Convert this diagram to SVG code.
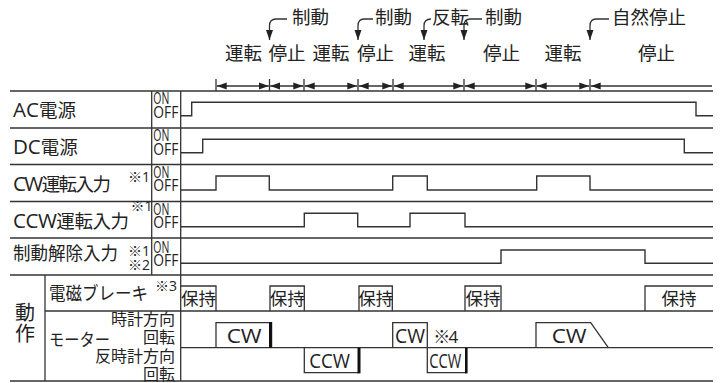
<svg xmlns="http://www.w3.org/2000/svg" width="724" height="383" viewBox="0 0 724 383">
<style>
text{font-family:"Open Sans","Noto Sans CJK JP",sans-serif;fill:#222}
.ln{stroke:#333;stroke-width:1.3;fill:none}
.sig{stroke:#333;stroke-width:1.4;fill:none}
.lbl{font-size:18.5px}
.lat{font-size:20.5px}
.oo{font-size:16.5px}
.nt{font-size:14px}
.hd{font-size:18.5px}
.mid{text-anchor:middle}
.end{text-anchor:end}
.box{stroke:#333;stroke-width:1.3;fill:none}
.bar{fill:#111}
</style>
<defs>
<marker id="ah" viewBox="0 0 10 7" refX="10" refY="3.5" markerWidth="10" markerHeight="7.5" markerUnits="userSpaceOnUse" orient="auto-start-reverse">
<path d="M0,0 L10,3.5 L0,7 z" fill="#222"/>
</marker>
</defs>

<g id="header">
<g id="ticks" class="ln">
<line x1="216" y1="79" x2="216" y2="91"/>
<line x1="269.5" y1="79" x2="269.5" y2="91"/>
<line x1="304" y1="79" x2="304" y2="91"/>
<line x1="358" y1="79" x2="358" y2="91"/>
<line x1="393" y1="79" x2="393" y2="91"/>
<line x1="464" y1="79" x2="464" y2="91"/>
<line x1="536" y1="79" x2="536" y2="91"/>
<line x1="590" y1="79" x2="590" y2="91"/>
</g>
<g id="dims" class="ln">
<line x1="216.7" y1="86" x2="268.8" y2="86" marker-start="url(#ah)" marker-end="url(#ah)"/>
<line x1="270.2" y1="86" x2="303.3" y2="86" marker-start="url(#ah)" marker-end="url(#ah)"/>
<line x1="304.7" y1="86" x2="357.3" y2="86" marker-start="url(#ah)" marker-end="url(#ah)"/>
<line x1="358.7" y1="86" x2="392.3" y2="86" marker-start="url(#ah)" marker-end="url(#ah)"/>
<line x1="393.7" y1="86" x2="463.3" y2="86" marker-start="url(#ah)" marker-end="url(#ah)"/>
<line x1="464.7" y1="86" x2="535.3" y2="86" marker-start="url(#ah)" marker-end="url(#ah)"/>
<line x1="536.7" y1="86" x2="589.3" y2="86" marker-start="url(#ah)" marker-end="url(#ah)"/>
<line x1="590.7" y1="86" x2="712" y2="86" marker-start="url(#ah)"/>
</g>
<g id="phase-labels" class="hd mid">
<text x="243.5" y="60">運転</text>
<text x="287" y="60">停止</text>
<text x="331" y="60">運転</text>
<text x="375.5" y="60">停止</text>
<text x="427" y="60">運転</text>
<text x="501.5" y="60">停止</text>
<text x="563" y="60">運転</text>
<text x="656.5" y="60">停止</text>
</g>
<g id="events">
<g class="ln">
<path d="M287,19 H276 Q269.5,19 269.5,26 V40" marker-end="url(#ah)"/>
<path d="M373,19 H364 Q358,19 358,26 V40" marker-end="url(#ah)"/>
<path d="M431,19 Q424,19 424,26 V40" marker-end="url(#ah)"/>
<path d="M482,19 H470 Q464,19 464,26 V40" marker-end="url(#ah)"/>
<path d="M609,19 H596 Q590,19 590,26 V40" marker-end="url(#ah)"/>
</g>
<g class="hd">
<text x="292" y="24">制動</text>
<text x="375" y="24">制動</text>
<text x="432" y="24">反転</text>
<text x="485" y="24">制動</text>
<text x="612" y="24">自然停止</text>
</g>
</g>
</g>

<g id="grid" class="ln">
<line x1="10" y1="91" x2="713" y2="91"/>
<line x1="10" y1="128" x2="713" y2="128"/>
<line x1="10" y1="164.5" x2="713" y2="164.5"/>
<line x1="10" y1="201.5" x2="713" y2="201.5"/>
<line x1="10" y1="238" x2="713" y2="238"/>
<line x1="10" y1="275" x2="713" y2="275"/>
<line x1="45" y1="311" x2="713" y2="311"/>
<line x1="181" y1="347.7" x2="713" y2="347.7"/>
<line x1="10" y1="381" x2="713" y2="381"/>
<line x1="151.7" y1="91" x2="151.7" y2="275"/>
<line x1="180.7" y1="91" x2="180.7" y2="381"/>
<line x1="45" y1="275" x2="45" y2="381"/>
</g>

<g id="row-ac">
<text class="lbl" x="13" y="117"><tspan class="lat">AC</tspan>電源</text>
<text class="oo" x="153.3" y="104" textLength="16" lengthAdjust="spacingAndGlyphs">ON</text>
<text class="oo" x="153.3" y="117.8" textLength="25" lengthAdjust="spacingAndGlyphs">OFF</text>
<path class="sig" d="M181,115.7 H191.7 V102.3 H696 V115.7 H713"/>
</g>
<g id="row-dc">
<text class="lbl" x="13" y="154"><tspan class="lat">DC</tspan>電源</text>
<text class="oo" x="153.3" y="141" textLength="16" lengthAdjust="spacingAndGlyphs">ON</text>
<text class="oo" x="153.3" y="154.8" textLength="25" lengthAdjust="spacingAndGlyphs">OFF</text>
<path class="sig" d="M181,152.7 H202.7 V139.3 H684.3 V152.7 H713"/>
</g>
<g id="row-cw">
<text class="lbl" x="13" y="191" textLength="98"><tspan class="lat">CW</tspan>運転入力</text>
<text class="nt" x="128" y="181.5">※1</text>
<text class="oo" x="153.3" y="177.5" textLength="16" lengthAdjust="spacingAndGlyphs">ON</text>
<text class="oo" x="153.3" y="191.3" textLength="25" lengthAdjust="spacingAndGlyphs">OFF</text>
<path class="sig" d="M181,190 H216 V176 H269.3 V190 H392.7 V176 H427.3 V190 H536.7 V176 H590 V190 H713"/>
</g>
<g id="row-ccw">
<text class="lbl" x="13" y="228" textLength="116"><tspan class="lat">CCW</tspan>運転入力</text>
<text class="nt" x="130.5" y="210.5">※1</text>
<text class="oo" x="153.3" y="214.5" textLength="16" lengthAdjust="spacingAndGlyphs">ON</text>
<text class="oo" x="153.3" y="228.3" textLength="25" lengthAdjust="spacingAndGlyphs">OFF</text>
<path class="sig" d="M181,226.7 H304.3 V213.3 H357.7 V226.7 H410 V213.3 H465 V226.7 H713"/>
</g>
<g id="row-release">
<text class="lbl" x="13" y="260" textLength="105" lengthAdjust="spacingAndGlyphs">制動解除入力</text>
<text class="nt" x="128" y="256">※1</text>
<text class="nt" x="128" y="270">※2</text>
<text class="oo" x="153.3" y="252.5" textLength="16" lengthAdjust="spacingAndGlyphs">ON</text>
<text class="oo" x="153.3" y="266.3" textLength="25" lengthAdjust="spacingAndGlyphs">OFF</text>
<path class="sig" d="M181,263.3 H501 V250 H645 V263.3 H713"/>
</g>

<g id="action-label">
<text class="mid" x="25" y="320" style="font-size:20px">動</text>
<text class="mid" x="25" y="341" style="font-size:20px">作</text>
</g>

<g id="row-brake">
<text x="49" y="299.5" style="font-size:18px" textLength="99" lengthAdjust="spacingAndGlyphs">電磁ブレーキ</text>
<text class="nt" x="155" y="290.5">※3</text>
<path class="box" d="M181,286 H216 V311"/>
<path class="box" d="M270,311 V286 H304.3 V311"/>
<path class="box" d="M359,311 V286 H392.3 V311"/>
<path class="box" d="M465,311 V286 H501 V311"/>
<path class="box" d="M645,311 V286 H713"/>
<g style="font-size:17.5px" class="mid">
<text x="198.5" y="305">保持</text>
<text x="287.2" y="305">保持</text>
<text x="375.7" y="305">保持</text>
<text x="483" y="305">保持</text>
<text x="679" y="305">保持</text>
</g>
</g>

<g id="row-motor">
<text x="49" y="346" style="font-size:16.5px" textLength="61" lengthAdjust="spacingAndGlyphs">モーター</text>
<g class="end" style="font-size:16px">
<text x="175" y="325">時計方向</text>
<text x="175" y="342.5">回転</text>
<text x="175" y="361.5">反時計方向</text>
<text x="175" y="379.5">回転</text>
</g>
<path class="box" d="M216,347.7 V322.7 H270"/>
<rect class="bar" x="269" y="322" width="3.2" height="25.7"/>
<path class="box" d="M392.7,347.7 V322.7 H427.3 V347.7"/>
<path class="box" d="M536,347.7 V322.7 H590.7 L608.3,347.7"/>
<path class="box" d="M304.3,347.7 V372.7 H358.5"/>
<rect class="bar" x="357.5" y="347.7" width="3" height="25.7"/>
<path class="box" d="M427.3,347.7 V372.7 H466"/>
<rect class="bar" x="465" y="347.7" width="2.6" height="25.7"/>
<g style="font-size:19.5px">
<text x="226.7" y="342.5" textLength="35" lengthAdjust="spacingAndGlyphs">CW</text>
<text x="395" y="342.5" textLength="30" lengthAdjust="spacingAndGlyphs">CW</text>
<text x="551.7" y="342.5" textLength="35" lengthAdjust="spacingAndGlyphs">CW</text>
<text x="309.3" y="368" textLength="40.7" lengthAdjust="spacingAndGlyphs">CCW</text>
<text x="429.3" y="368" textLength="32" lengthAdjust="spacingAndGlyphs">CCW</text>
</g>
<text x="433.3" y="343" style="font-size:17px" textLength="25">※4</text>
</g>
</svg>
